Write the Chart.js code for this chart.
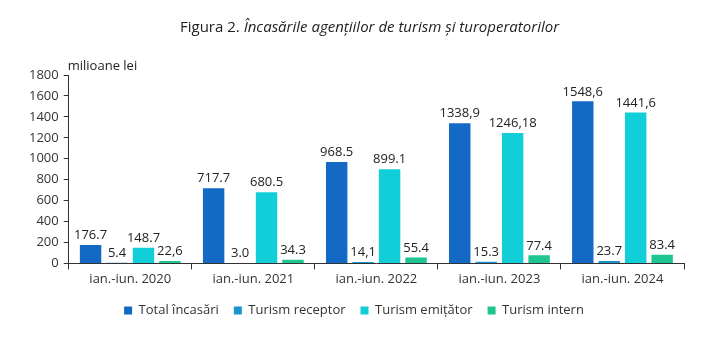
<!DOCTYPE html>
<html>
<head>
<meta charset="utf-8">
<script src="https://cdn.jsdelivr.net/npm/chart.js@4/dist/chart.umd.min.js"></script>
<style>
  html, body { margin: 0; padding: 0; background: #fff; }
  #wrap { width: 726px; height: 339px; position: relative; }
</style>
</head>
<body>
<div id="wrap"><canvas id="chart" width="726" height="339"></canvas></div>
<script>
const categories = ['ian.-iun. 2020', 'ian.-iun. 2021', 'ian.-iun. 2022', 'ian.-iun. 2023', 'ian.-iun. 2024'];
const seriesNames = ['Total încasări', 'Turism receptor', 'Turism emițător', 'Turism intern'];

const total = [176.7, 717.7, 968.5, 1338.9, 1548.6];
const receptor = [5.4, 3.0, 14.1, 15.3, 23.7];
const emitator = [148.7, 680.5, 899.1, 1246.18, 1441.6];
const intern = [22.6, 34.3, 55.4, 77.4, 83.4];

// labels as printed in the source (mixed decimal separators)
const totalText = ['176.7', '717.7', '968.5', '1338,9', '1548,6'];
const receptorText = ['5.4', '3.0', '14,1', '15.3', '23.7'];
const emitatorText = ['148.7', '680.5', '899.1', '1246,18', '1441,6'];
const internText = ['22,6', '34.3', '55.4', '77.4', '83.4'];

const yTicks = [0, 200, 400, 600, 800, 1000, 1200, 1400, 1600, 1800];

const colors = ['#1369c3', '#1a93cf', '#12ced8', '#1fc591'];
const FONT = '"Open Sans", Lato, sans-serif';

const valueLabels = {
	id: 'valueLabels',
	afterDatasetsDraw(chart) {
		const ctx = chart.ctx;
		const texts = [totalText, receptorText, emitatorText, internText];
		ctx.save();
		ctx.font = '13px ' + FONT;
		ctx.fillStyle = '#222';
		ctx.textAlign = 'center';
		ctx.textBaseline = 'bottom';
		chart.data.datasets.forEach(function(ds, i) {
			chart.getDatasetMeta(i).data.forEach(function(bar, j) {
				ctx.fillText(texts[i][j], bar.x, bar.y - 3);
			});
		});
		ctx.restore();
	}
};

const extraText = {
	id: 'extraText',
	afterDraw(chart) {
		const ctx = chart.ctx;
		ctx.save();
		ctx.fillStyle = '#222';
		ctx.textBaseline = 'alphabetic';
		ctx.textAlign = 'left';
		// title
		ctx.font = '15px ' + FONT;
		const a = 'Figura 2. ';
		const x0 = 180;
		ctx.fillText(a, x0, 32);
		const w = ctx.measureText(a).width;
		ctx.font = 'italic 15px ' + FONT;
		ctx.fillText('Încasările agențiilor de turism și turoperatorilor', x0 + w, 32);
		// unit
		ctx.font = '13px ' + FONT;
		ctx.fillText('milioane lei', chart.chartArea.left - 1, 70);
		ctx.restore();
	}
};

new Chart(document.getElementById('chart').getContext('2d'), {
	type: 'bar',
	data: {
		labels: categories,
		datasets: [
			{ label: seriesNames[0], data: total, backgroundColor: colors[0] },
			{ label: seriesNames[1], data: receptor, backgroundColor: colors[1] },
			{ label: seriesNames[2], data: emitator, backgroundColor: colors[2] },
			{ label: seriesNames[3], data: intern, backgroundColor: colors[3] }
		]
	},
	options: {
		responsive: false,
		animation: false,
		layout: {
			padding: { top: 75, left: 24, right: 42, bottom: 12 }
		},
		datasets: {
			bar: { barPercentage: 0.81, categoryPercentage: 0.86 }
		},
		scales: {
			x: {
				grid: { drawOnChartArea: false, drawTicks: true, tickLength: 6, color: '#333' },
				border: { color: '#333', width: 1 },
				ticks: { color: '#333', font: { family: FONT, size: 13 }, padding: 2 }
			},
			y: {
				min: 0,
				max: 1800,
				afterBuildTicks: function(axis) {
					axis.ticks = yTicks.map(function(v) { return { value: v }; });
				},
				grid: { drawOnChartArea: false, drawTicks: true, tickLength: 5, color: '#333' },
				border: { color: '#333', width: 1 },
				ticks: {
					color: '#333',
					font: { family: FONT, size: 13 },
					padding: 5,
					callback: function(v) { return String(v); }
				}
			}
		},
		plugins: {
			legend: {
				position: 'bottom',
				labels: {
					color: '#333',
					font: { family: FONT, size: 13 },
					boxWidth: 8,
					boxHeight: 8,
					padding: 15
				}
			},
			tooltip: { enabled: false }
		}
	},
	plugins: [valueLabels, extraText]
});
</script>
</body>
</html>
